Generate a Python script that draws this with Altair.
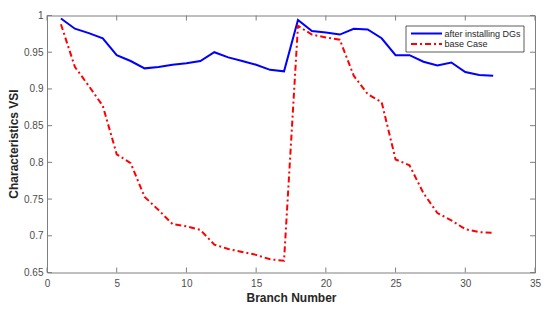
import altair as alt
import pandas as pd

branch = list(range(1, 33))
after_dg = [0.996, 0.982, 0.976, 0.969, 0.946, 0.938, 0.928, 0.930, 0.933, 0.935,
            0.938, 0.950, 0.943, 0.938, 0.933, 0.926, 0.924, 0.994, 0.979, 0.977,
            0.974, 0.982, 0.981, 0.969, 0.946, 0.946, 0.937, 0.932, 0.936, 0.923,
            0.919, 0.918]
base_case = [0.988, 0.930, 0.904, 0.877, 0.811, 0.799, 0.753, 0.735, 0.716, 0.713,
             0.708, 0.688, 0.682, 0.678, 0.674, 0.668, 0.666, 0.986, 0.974, 0.970,
             0.967, 0.918, 0.893, 0.882, 0.804, 0.796, 0.758, 0.731, 0.721, 0.709,
             0.705, 0.704]
series_names = ["after installing DGs", "base Case"]
series_colors = ["#0000FF", "#FF0000"]
x_ticks = [0, 5, 10, 15, 20, 25, 30, 35]
y_ticks = [0.65, 0.7, 0.75, 0.8, 0.85, 0.9, 0.95, 1.0]
y_tick_labels = ["0.65", "0.7", "0.75", "0.8", "0.85", "0.9", "0.95", "1"]
y_title = "Characteristics VSI"

W, H = 488, 257
FONT = "Liberation Sans"
LABEL_COLOR = "#4d4d4d"
FRAME_COLOR = "#7f7f7f"

df_blue = pd.DataFrame({"branch": branch, "vsi": after_dg})
df_red = pd.DataFrame({"branch": branch, "vsi": base_case})
df_xt = pd.DataFrame({"t": x_ticks})
df_yt = pd.DataFrame({"t": y_ticks, "lab": y_tick_labels})
one = pd.DataFrame({"k": [0]})

xs = alt.Scale(domain=[0, 35], nice=False, zero=False)
ys = alt.Scale(domain=[0.65, 1.0], nice=False, zero=False)

label_map = "{" + ",".join(f"'{v:.2f}':'{s}'" for v, s in zip(y_ticks, y_tick_labels)) + "}"

x_axis = alt.Axis(values=x_ticks, tickSize=0, domain=False, grid=False,
                  labelOverlap=False, labelFlush=False,
                  labelFont=FONT, labelFontSize=10, labelColor=LABEL_COLOR,
                  labelPadding=6, title="Branch Number", titleFont=FONT,
                  titleFontSize=12, titleFontWeight="bold", titleColor="#262626",
                  titlePadding=4)
y_axis = alt.Axis(values=y_ticks, tickSize=0, domain=False, grid=False,
                  labelOverlap=False, labelFlush=False, labelBound=False,
                  labelFont=FONT, labelFontSize=10, labelColor=LABEL_COLOR,
                  labelPadding=4,
                  labelExpr=label_map + "[format(datum.value, '.2f')]",
                  title=None)

blue = alt.Chart(df_blue).mark_line(color=series_colors[0], strokeWidth=2).encode(
    x=alt.X("branch:Q", scale=xs, axis=x_axis),
    y=alt.Y("vsi:Q", scale=ys, axis=y_axis),
)
red = alt.Chart(df_red).mark_line(color=series_colors[1], strokeWidth=2,
                                  strokeDash=[6, 3, 2, 3]).encode(
    x=alt.X("branch:Q", scale=xs, axis=None),
    y=alt.Y("vsi:Q", scale=ys, axis=None),
)

tick_style = dict(color=FRAME_COLOR, strokeWidth=1)
xt_bottom = alt.Chart(df_xt).mark_rule(**tick_style).encode(
    x=alt.X("t:Q", scale=xs, axis=None), y=alt.value(H - 5), y2=alt.value(H))
xt_top = alt.Chart(df_xt).mark_rule(**tick_style).encode(
    x=alt.X("t:Q", scale=xs, axis=None), y=alt.value(0), y2=alt.value(5))
yt_left = alt.Chart(df_yt).mark_rule(**tick_style).encode(
    y=alt.Y("t:Q", scale=ys, axis=None), x=alt.value(0), x2=alt.value(5))
yt_right = alt.Chart(df_yt).mark_rule(**tick_style).encode(
    y=alt.Y("t:Q", scale=ys, axis=None), x=alt.value(W - 5), x2=alt.value(W))

y_title_mark = alt.Chart(one).mark_text(
    angle=270, align="center", baseline="middle", font=FONT, fontSize=12,
    fontWeight="bold", color="#262626", text=y_title,
).encode(x=alt.value(-33), y=alt.value(H / 2))

# legend (manual, MATLAB style box)
lx0, lx1, ly0, ly1 = 359, 477, 10.5, 36.5
leg_box = alt.Chart(one).mark_rect(fill="white", stroke="#333333", strokeWidth=0.8).encode(
    x=alt.value(lx0), x2=alt.value(lx1), y=alt.value(ly0), y2=alt.value(ly1))
leg_line1 = alt.Chart(one).mark_rule(color=series_colors[0], strokeWidth=2).encode(
    x=alt.value(364), x2=alt.value(395), y=alt.value(18))
leg_line2 = alt.Chart(one).mark_rule(color=series_colors[1], strokeWidth=2,
                                     strokeDash=[6, 3, 2, 3]).encode(
    x=alt.value(364), x2=alt.value(395), y=alt.value(28.5))
leg_text1 = alt.Chart(one).mark_text(align="left", baseline="middle", font=FONT,
                                     fontSize=9, color="#262626",
                                     text=series_names[0]).encode(
    x=alt.value(397.5), y=alt.value(18))
leg_text2 = alt.Chart(one).mark_text(align="left", baseline="middle", font=FONT,
                                     fontSize=9, color="#262626",
                                     text=series_names[1]).encode(
    x=alt.value(397.5), y=alt.value(28.5))

chart = alt.layer(
    blue, red, xt_bottom, xt_top, yt_left, yt_right, y_title_mark,
    leg_box, leg_line1, leg_line2, leg_text1, leg_text2,
).resolve_axis(x="independent", y="independent").properties(
    width=W, height=H,
    autosize=alt.AutoSizeParams(type="none"),
    padding={"left": 39, "top": 7.5, "right": 7, "bottom": 32.5},
    background="white",
).configure_view(stroke=FRAME_COLOR, strokeWidth=1)

chart.save("out.html", embed_options={"renderer": "svg", "actions": False})
